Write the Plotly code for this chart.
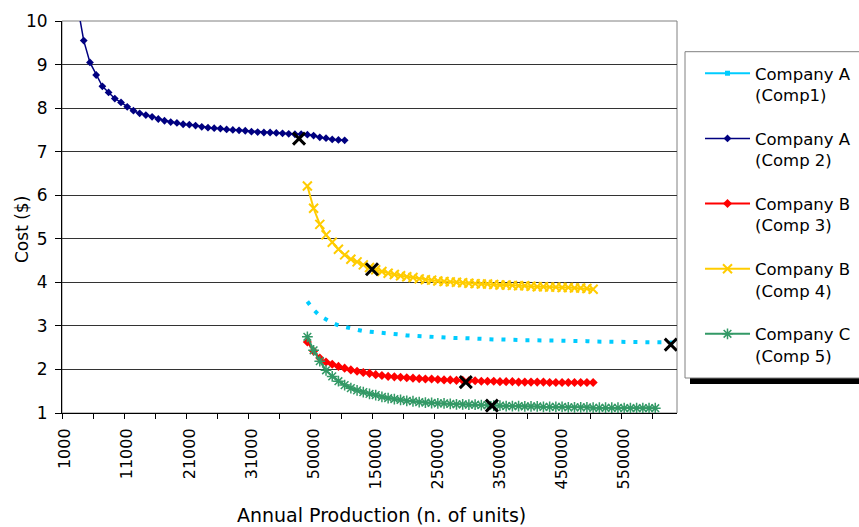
import plotly.graph_objects as go

# Production grid used as the category axis (units per year)
production = list(range(1000, 41000, 1000)) + list(range(50000, 640000, 10000))
labels = [str(p) for p in production]

# Unit cost ($) per component, starting at the given production level
comp1_start = 40000
comp1_cost = [3.56, 3.37, 3.23, 3.14, 3.07, 3.01, 2.97, 2.93, 2.91, 2.88,
              2.87, 2.85, 2.83, 2.82, 2.81, 2.80, 2.78, 2.77, 2.76, 2.75,
              2.74, 2.74, 2.73, 2.73, 2.72, 2.72, 2.71, 2.70, 2.70, 2.69,
              2.69, 2.69, 2.68, 2.68, 2.68, 2.67, 2.67, 2.67, 2.67, 2.66,
              2.66, 2.66, 2.66, 2.65, 2.65, 2.65, 2.64, 2.64, 2.64, 2.64,
              2.64, 2.63, 2.63, 2.63, 2.63, 2.63, 2.63, 2.62, 2.62, 2.62]

comp2_start = 1000
comp2_cost = [16.6, 11.9, 10.35, 9.55, 9.05, 8.76, 8.50, 8.36, 8.22, 8.13,
              8.03, 7.94, 7.88, 7.84, 7.80, 7.75, 7.71, 7.68, 7.66, 7.63,
              7.62, 7.60, 7.57, 7.55, 7.54, 7.53, 7.51, 7.50, 7.49, 7.48,
              7.46, 7.45, 7.44, 7.44, 7.43, 7.42, 7.41, 7.40, 7.40, 7.39,
              7.37, 7.33, 7.31, 7.28, 7.27, 7.26]

comp3_start = 40000
comp3_cost = [2.63, 2.42, 2.26, 2.17, 2.12, 2.07, 2.03, 1.99, 1.96, 1.93,
              1.91, 1.88, 1.86, 1.84, 1.83, 1.82, 1.81, 1.80, 1.79, 1.78,
              1.78, 1.77, 1.76, 1.76, 1.75, 1.75, 1.74, 1.74, 1.73, 1.73,
              1.73, 1.72, 1.72, 1.72, 1.71, 1.71, 1.71, 1.71, 1.71, 1.70,
              1.70, 1.70, 1.70, 1.70, 1.70, 1.70, 1.70]

comp4_start = 40000
comp4_cost = [6.21, 5.70, 5.33, 5.09, 4.92, 4.76, 4.63, 4.53, 4.47, 4.40,
              4.34, 4.29, 4.25, 4.21, 4.18, 4.15, 4.13, 4.11, 4.08, 4.06,
              4.05, 4.03, 4.02, 4.01, 4.00, 3.99, 3.98, 3.97, 3.96, 3.96,
              3.95, 3.94, 3.94, 3.93, 3.92, 3.92, 3.91, 3.90, 3.90, 3.89,
              3.89, 3.88, 3.88, 3.87, 3.87, 3.86, 3.84]

comp5_start = 40000
comp5_cost = [2.75, 2.44, 2.19, 1.98, 1.84, 1.73, 1.64, 1.57, 1.52, 1.48,
              1.44, 1.41, 1.37, 1.34, 1.32, 1.30, 1.28, 1.27, 1.25, 1.24,
              1.23, 1.22, 1.22, 1.21, 1.20, 1.20, 1.19, 1.19, 1.18, 1.18,
              1.17, 1.17, 1.16, 1.16, 1.16, 1.15, 1.15, 1.15, 1.14, 1.14,
              1.14, 1.14, 1.13, 1.13, 1.13, 1.13, 1.12, 1.12, 1.12, 1.12,
              1.12, 1.11, 1.11, 1.11, 1.11, 1.11, 1.11]

# Break-even points (position along the category scale, cost)
breakeven_pos = [37.66, 49.4, 64.5, 68.7, 97.5]
breakeven_cost = [7.30, 4.30, 1.71, 1.17, 2.57]

FONT = "DejaVu Sans"
W, H = 859, 527
ML, MR, MT, MB = 62, 182, 21, 114
PW, PH = W - ML - MR, H - MT - MB


def px_x(px):
    return (px - ML) / PW


def px_y(py):
    return (H - MB - py) / PH


def cats(start, values):
    i = production.index(start)
    return labels[i:i + len(values)]


fig = go.Figure()

# Comp 1 is drawn as a dotted line; its legend key is a solid line with a square
fig.add_trace(go.Scatter(
    x=[None], y=[None], mode="lines+markers", name="Company A<br>(Comp1)",
    line=dict(color="#00CCFF", width=2),
    marker=dict(symbol="square", size=5, color="#00CCFF"),
    legendgroup="c1"))
fig.add_trace(go.Scatter(
    x=cats(comp1_start, comp1_cost), y=comp1_cost, mode="lines",
    line=dict(color="#00CCFF", width=4, dash="4px,8px"),
    showlegend=False, legendgroup="c1", name="Company A (Comp1)"))

fig.add_trace(go.Scatter(
    x=cats(comp2_start, comp2_cost), y=comp2_cost, mode="lines+markers",
    name="Company A<br>(Comp 2)", legendgroup="c2",
    line=dict(color="#000080", width=1.5),
    marker=dict(symbol="diamond", size=6, color="#000080")))

fig.add_trace(go.Scatter(
    x=cats(comp3_start, comp3_cost), y=comp3_cost, mode="lines+markers",
    name="Company B<br>(Comp 3)", legendgroup="c3",
    line=dict(color="#FF0000", width=2),
    marker=dict(symbol="diamond", size=7, color="#FF0000")))

fig.add_trace(go.Scatter(
    x=cats(comp4_start, comp4_cost), y=comp4_cost, mode="lines+markers",
    name="Company B<br>(Comp 4)", legendgroup="c4",
    line=dict(color="#FFCC00", width=2),
    marker=dict(symbol="x-thin-open", size=9, color="#FFCC00",
                line=dict(color="#FFCC00", width=2))))

fig.add_trace(go.Scatter(
    x=cats(comp5_start, comp5_cost), y=comp5_cost, mode="lines+markers",
    name="Company C<br>(Comp 5)", legendgroup="c5",
    line=dict(color="#339966", width=2),
    marker=dict(symbol="asterisk-open", size=9, color="#339966",
                line=dict(color="#339966", width=1.5))))

fig.add_trace(go.Scatter(
    x=breakeven_pos, y=breakeven_cost, mode="markers", xaxis="x2",
    showlegend=False, name="Break-even",
    marker=dict(symbol="x-thin-open", size=12, color="black",
                line=dict(color="black", width=3))))

n = len(production)
label_vals = labels[::5]
label_text = [lab if i % 2 == 0 else "" for i, lab in enumerate(label_vals)]

fig.update_layout(
    width=W, height=H,
    margin=dict(l=ML, r=MR, t=MT, b=MB, autoexpand=False),
    paper_bgcolor="white", plot_bgcolor="white",
    font=dict(family=FONT, size=16, color="black"),
    xaxis=dict(
        type="category", categoryorder="array", categoryarray=labels,
        range=[-0.5, n - 0.5], tickmode="array",
        tickvals=label_vals, ticktext=label_text, ticks="",
        tickangle=-90, tickfont=dict(family=FONT, size=16),
        ticklabelstandoff=8,
        showgrid=False, zeroline=False, showline=True,
        linecolor="black", linewidth=1),
    xaxis2=dict(
        overlaying="x", anchor="y", side="bottom",
        range=[-0.5, n - 0.5], tickmode="array",
        tickvals=[i - 0.5 for i in range(0, n, 5)],
        ticks="outside", ticklen=5, tickcolor="black",
        showticklabels=False, showgrid=False, zeroline=False,
        showline=False),
    yaxis=dict(
        range=[1, 10], dtick=1, tick0=1, ticks="outside", ticklen=6,
        tickcolor="black", showgrid=True, gridcolor="#333333",
        gridwidth=1, zeroline=False, showline=True, linecolor="black",
        linewidth=1, tickfont=dict(family=FONT, size=17),
        ticklabelstandoff=4),
    legend=dict(
        x=px_x(700), y=px_y(56), xanchor="left", yanchor="top",
        bgcolor="rgba(0,0,0,0)", borderwidth=0, itemwidth=45,
        font=dict(family=FONT, size=16.5, color="black"),
        tracegroupgap=19.25, valign="top"),
    shapes=[
        dict(type="rect", xref="paper", yref="paper", x0=0, x1=1, y0=0, y1=1,
             line=dict(color="#808080", width=1), layer="below"),
        dict(type="rect", xref="paper", yref="paper",
             x0=px_x(690), x1=px_x(900), y0=px_y(384), y1=px_y(377),
             fillcolor="black", line=dict(width=0), layer="above"),
        dict(type="rect", xref="paper", yref="paper",
             x0=px_x(685), x1=px_x(900), y0=px_y(378), y1=px_y(51.7),
             fillcolor="white", line=dict(color="#808080", width=1),
             layer="above"),
    ],
    annotations=[
        dict(text="Annual Production (n. of units)", xref="paper",
             yref="paper", x=px_x(381.5), y=px_y(515), xanchor="center",
             yanchor="middle", showarrow=False,
             font=dict(family=FONT, size=19)),
        dict(text="Cost ($)", xref="paper", yref="paper", x=px_x(22),
             y=px_y(229), xanchor="center", yanchor="middle",
             textangle=-90, showarrow=False,
             font=dict(family=FONT, size=17)),
    ],
)

fig.write_html("out.html")
